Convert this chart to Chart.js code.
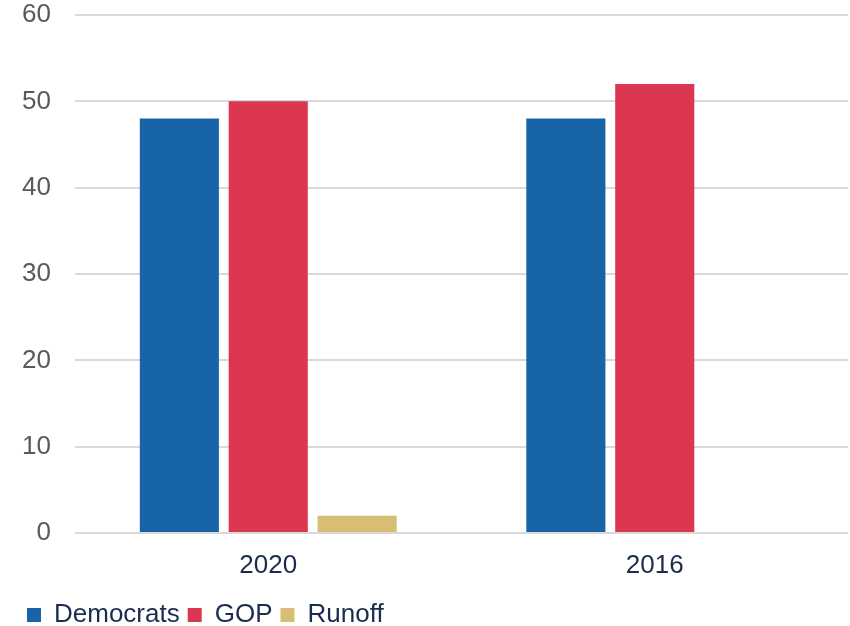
<!DOCTYPE html>
<html>
<head>
<meta charset="utf-8">
<script src="https://cdn.jsdelivr.net/npm/chart.js@4/dist/chart.umd.min.js"></script>
<style>
html,body{margin:0;padding:0;background:#fff;}
#wrap{width:850px;height:626px;position:relative;}
</style>
</head>
<body>
<div id="wrap"><canvas id="c" width="850" height="626"></canvas></div>
<script>
const categories = ["2020", "2016"];
const democrats = [48, 48];
const gop = [50, 52];
const runoff = [2, 0];
const yTicks = [0, 10, 20, 30, 40, 50, 60];

const FONT = "'Liberation Sans', Arial, sans-serif";
const navy = "#1b2c50";

new Chart(document.getElementById("c"), {
  type: "bar",
  data: {
    labels: categories,
    datasets: [
      { label: "Democrats", data: democrats, backgroundColor: "#1764a6" },
      { label: "GOP", data: gop, backgroundColor: "#db3750" },
      { label: "Runoff", data: runoff, backgroundColor: "#d8bd75" }
    ]
  },
  options: {
    responsive: false,
    animation: false,
    devicePixelRatio: 1,
    layout: { padding: { left: 19, right: 2, top: 15, bottom: -12 } },
    datasets: { bar: { categoryPercentage: 0.69, barPercentage: 0.89, borderWidth: 0 } },
    plugins: {
      tooltip: { enabled: false },
      legend: {
        position: "bottom",
        align: "start",
        labels: {
          boxWidth: 14, boxHeight: 14, padding: 8,
          color: navy,
          font: { family: FONT, size: 26 }
        }
      }
    },
    scales: {
      x: {
        grid: { display: false, drawTicks: false },
        border: { display: false },
        ticks: { color: navy, font: { family: FONT, size: 26 }, padding: 17 },
        afterFit: (s) => { s.height = 61; }
      },
      y: {
        min: 0, max: 60,
        afterBuildTicks: (s) => { s.ticks = yTicks.map(v => ({ value: v })); },
        grid: { color: "#d9d9d9", lineWidth: 2, drawTicks: false },
        border: { display: false },
        ticks: { color: "#595959", font: { family: FONT, size: 26 }, padding: 24 },
        afterFit: (s) => { s.width = 56; s.paddingTop = 0; s.paddingBottom = 0; }
      }
    }
  }
});
</script>
</body>
</html>
